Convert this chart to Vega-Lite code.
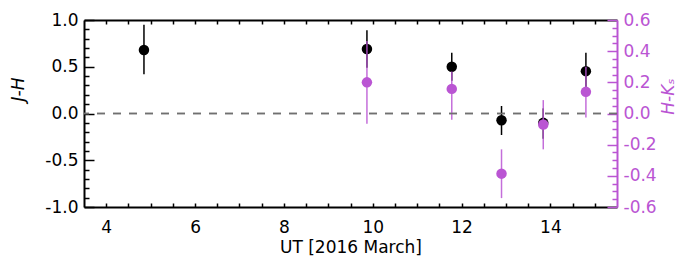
{
  "$schema": "https://vega.github.io/schema/vega-lite/v6.json",
  "width": 533,
  "height": 187,
  "autosize": "none",
  "padding": {"left": 84, "top": 20, "right": 65, "bottom": 55},
  "config": {
    "view": {"stroke": null},
    "axis": {"grid": false, "labelFont": "DejaVu Sans", "titleFont": "DejaVu Sans", "labelFontSize": 17, "titleFontSize": 17, "titleFontWeight": "normal", "labelColor": "black", "titleColor": "black", "domainColor": "black", "tickColor": "black", "domainWidth": 2, "tickWidth": 1.5, "labelFlush": false, "labelOverlap": false}
  },
  "datasets": {
    "obs": [
      {"ut": 4.85, "jh": 0.68, "jh_lo": 0.42, "jh_hi": 0.95, "hk": null, "hk_lo": null, "hk_hi": null},
      {"ut": 9.87, "jh": 0.69, "jh_lo": 0.49, "jh_hi": 0.89, "hk": 0.20, "hk_lo": -0.065, "hk_hi": 0.465},
      {"ut": 11.78, "jh": 0.50, "jh_lo": 0.35, "jh_hi": 0.65, "hk": 0.158, "hk_lo": -0.04, "hk_hi": 0.27},
      {"ut": 12.90, "jh": -0.072, "jh_lo": -0.23, "jh_hi": 0.08, "hk": -0.386, "hk_lo": -0.543, "hk_hi": -0.23},
      {"ut": 13.84, "jh": -0.10, "jh_lo": -0.27, "jh_hi": 0.055, "hk": -0.071, "hk_lo": -0.23, "hk_hi": 0.086},
      {"ut": 14.80, "jh": 0.453, "jh_lo": 0.25, "jh_hi": 0.65, "hk": 0.139, "hk_lo": -0.026, "hk_hi": 0.30}
    ],
    "zero": [{"y": 0}]
  },
  "layer": [
    {
      "data": {"name": "zero"},
      "mark": {"type": "rule", "strokeDash": [8, 8], "color": "#707070", "strokeWidth": 1.5},
      "encoding": {
        "y": {"field": "y", "type": "quantitative", "scale": {"domain": [-1, 1], "nice": false, "zero": false},
          "axis": {
            "orient": "left",
            "values": [-1, -0.5, 0, 0.5, 1],
            "labelExpr": "(datum.value < -0.001 ? '-' : '') + format(abs(datum.value), '.1f')",
            "ticks": false,
            "labelPadding": 6,
            "title": "J-H",
            "titleFontStyle": "italic",
            "titleBaseline": "middle",
            "titleX": -66,
            "titleY": 69
          }}
      }
    },
    {
      "data": {"name": "obs"},
      "mark": {"type": "rule", "color": "black", "strokeWidth": 1.5},
      "encoding": {
        "x": {"field": "ut", "type": "quantitative", "scale": {"domain": [3.5, 15.5], "nice": false, "zero": false},
          "axis": {
            "orient": "bottom",
            "values": [4, 6, 8, 10, 12, 14],
            "ticks": false,
            "labelPadding": 12,
            "title": "UT [2016 March]",
            "titlePadding": 4
          }},
        "y": {"field": "jh_lo", "type": "quantitative", "scale": {"domain": [-1, 1], "nice": false, "zero": false},
          "axis": {
            "orient": "left",
            "values": [-1, -0.5, 0, 0.5, 1],
            "labels": false,
            "domain": false,
            "ticks": true,
            "tickSize": -10,
            "tickColor": "black",
            "title": null
          }},
        "y2": {"field": "jh_hi"}
      }
    },
    {
      "data": {"name": "obs"},
      "mark": {"type": "point", "filled": true, "color": "black", "opacity": 1, "size": 110},
      "encoding": {
        "x": {"field": "ut", "type": "quantitative", "scale": {"domain": [3.5, 15.5], "nice": false, "zero": false},
          "axis": {
            "orient": "top",
            "values": [4, 4.5, 5, 5.5, 6, 6.5, 7, 7.5, 8, 8.5, 9, 9.5, 10, 10.5, 11, 11.5, 12, 12.5, 13, 13.5, 14, 14.5, 15],
            "labels": false,
            "ticks": true,
            "tickSize": -4,
            "tickColor": "black",
            "title": null
          }},
        "y": {"field": "jh", "type": "quantitative", "scale": {"domain": [-1, 1], "nice": false, "zero": false},
          "axis": {
            "orient": "left",
            "values": [-0.9, -0.8, -0.7, -0.6, -0.4, -0.3, -0.2, -0.1, 0.1, 0.2, 0.3, 0.4, 0.6, 0.7, 0.8, 0.9],
            "labels": false,
            "domain": false,
            "ticks": true,
            "tickSize": -5,
            "tickColor": "black",
            "title": null
          }}
      }
    },
    {
      "data": {"name": "obs"},
      "transform": [{"filter": "isValid(datum.hk)"}],
      "mark": {"type": "rule", "color": "#BA55D3", "strokeWidth": 1.5, "opacity": 0.85},
      "encoding": {
        "x": {"field": "ut", "type": "quantitative", "scale": {"domain": [3.5, 15.5], "nice": false, "zero": false},
          "axis": {
            "orient": "bottom",
            "values": [4, 4.5, 5, 5.5, 6, 6.5, 7, 7.5, 8, 8.5, 9, 9.5, 10, 10.5, 11, 11.5, 12, 12.5, 13, 13.5, 14, 14.5, 15],
            "labels": false,
            "domain": false,
            "ticks": true,
            "tickSize": -4,
            "tickColor": "black",
            "title": null
          }},
        "y": {"field": "hk_lo", "type": "quantitative", "scale": {"domain": [-0.6, 0.6], "nice": false, "zero": false},
          "axis": {
            "orient": "right",
            "values": [-0.6, -0.4, -0.2, 0, 0.2, 0.4, 0.6],
            "labelExpr": "(datum.value < -0.001 ? '-' : '') + format(abs(datum.value), '.1f')",
            "ticks": false,
            "labelPadding": 6,
            "labelColor": "#BA55D3",
            "domainColor": "#BA55D3",
            "titleColor": "#BA55D3",
            "title": "H-Kₛ",
            "titleAngle": 270,
            "titleFontStyle": "italic",
            "titleBaseline": "middle",
            "titleX": 51,
            "titleY": 76
          }},
        "y2": {"field": "hk_hi"}
      }
    },
    {
      "data": {"name": "obs"},
      "transform": [{"filter": "isValid(datum.hk)"}],
      "mark": {"type": "point", "filled": true, "color": "#BA55D3", "opacity": 1, "size": 110},
      "encoding": {
        "x": {"field": "ut", "type": "quantitative", "scale": {"domain": [3.5, 15.5], "nice": false, "zero": false}, "axis": null},
        "y": {"field": "hk", "type": "quantitative", "scale": {"domain": [-0.6, 0.6], "nice": false, "zero": false},
          "axis": {
            "orient": "right",
            "values": [-0.6, -0.4, -0.2, 0, 0.2, 0.4, 0.6],
            "labels": false,
            "domain": false,
            "ticks": true,
            "tickSize": -10,
            "tickColor": "#BA55D3",
            "title": null
          }}
      }
    },
    {
      "data": {"name": "zero"},
      "mark": {"type": "rule", "strokeDash": [8, 8], "color": "#707070", "strokeWidth": 1.5},
      "encoding": {
        "y": {"field": "y", "type": "quantitative", "scale": {"domain": [-0.6, 0.6], "nice": false, "zero": false},
          "axis": {
            "orient": "right",
            "values": [-0.55, -0.5, -0.45, -0.35, -0.3, -0.25, -0.15, -0.1, -0.05, 0.05, 0.1, 0.15, 0.25, 0.3, 0.35, 0.45, 0.5, 0.55],
            "labels": false,
            "domain": false,
            "ticks": true,
            "tickSize": -5,
            "tickColor": "#BA55D3",
            "title": null
          }}
      }
    }
  ],
  "resolve": {"scale": {"x": "independent", "y": "independent"}, "axis": {"x": "independent", "y": "independent"}}
}
